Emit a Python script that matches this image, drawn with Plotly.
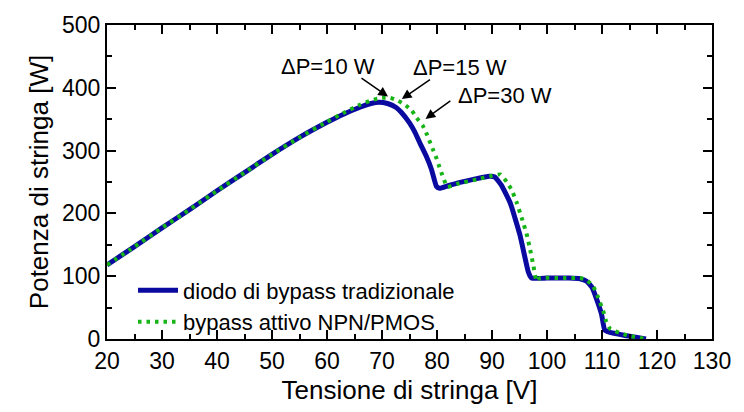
import plotly.graph_objects as go

# String P-V curves: traditional bypass diode vs. active NPN/PMOS bypass
v_diode = [20, 25, 30, 35, 40, 45, 50, 55, 60, 63, 66, 68, 69.5, 71, 72.5, 73.5,
           75, 76, 77, 78, 79, 79.9, 80.5, 82, 84, 87, 89.5, 90.5, 91.7, 93.3,
           95.1, 96.6, 97.2, 100, 104, 106, 107.2, 108.2, 109, 109.9, 110.5,
           111.3, 114, 118]
p_diode = [118, 147, 177, 206, 236, 265, 294, 321, 345, 358, 369, 375, 377, 375,
           369, 361, 344, 329, 310, 292, 270, 243, 240, 244, 249, 255, 259, 258,
           245, 217, 165, 107, 97, 97, 97, 96, 92, 82, 64, 40, 14, 11, 6, 0]

v_active = [20, 25, 30, 35, 40, 45, 50, 55, 60, 63, 66, 68, 70, 71.5, 72.5, 74,
            75.4, 76.3, 77.4, 78.1, 78.7, 79.3, 79.9, 80.4, 80.8, 81.3, 81.9,
            83.6, 87.2, 90, 91.5, 92.7, 93.6, 94.5, 95.4, 96.3, 96.9, 97.5, 98.1,
            98.7, 103, 106, 107.2, 108.4, 109.3, 110.2, 110.8, 111.5, 114.5, 118]
p_active = [118, 147, 177, 206, 236, 265, 294, 321, 346, 360, 373, 380, 384, 384,
            381, 374, 364, 352, 340, 327, 314, 301, 288, 275, 265, 253, 242, 247,
            254, 260, 262, 250, 237, 217, 193, 167, 144, 118, 92, 97, 97, 97, 94,
            84, 66, 45, 27, 16, 6, 0]

x_ticks = list(range(20, 131, 10))
y_ticks = list(range(0, 501, 100))

# (label, label position, arrow tail, arrow head) in data units
dp_labels = ["\u0394P=10 W", "\u0394P=15 W", "\u0394P=30 W"]
label_xy = [(60.2, 434), (84.2, 432), (92.4, 388)]
arrow_tail = [(66.0, 417), (79.0, 414.5), (82.7, 381)]
arrow_head = [(71.1, 386), (73.6, 382), (77.9, 350.5)]

FONT = "Liberation Sans, Arial, sans-serif"

fig = go.Figure()
fig.add_trace(go.Scatter(
    x=v_diode, y=p_diode, mode="lines",
    name="diodo di bypass tradizionale",
    line=dict(color="#0a0aa0", width=5, shape="spline", smoothing=0.4),
))
fig.add_trace(go.Scatter(
    x=v_active, y=p_active, mode="lines",
    name="bypass attivo NPN/PMOS",
    line=dict(color="#17b417", width=4, dash="3.5px,5px", shape="spline", smoothing=0.4),
))

annotations = []
for txt, (tx, ty) in zip(dp_labels, label_xy):
    annotations.append(dict(x=tx, y=ty, xref="x", yref="y", text=txt,
                            showarrow=False, font=dict(size=22, color="black", family=FONT)))
for (ax, ay), (hx, hy) in zip(arrow_tail, arrow_head):
    annotations.append(dict(x=hx, y=hy, ax=ax, ay=ay, xref="x", yref="y",
                            axref="x", ayref="y", text="", showarrow=True,
                            arrowhead=2, arrowsize=1.3, arrowwidth=1.5,
                            arrowcolor="black", standoff=0, startstandoff=0))

axis_common = dict(
    showline=True, linecolor="black", linewidth=2, mirror="allticks",
    ticks="inside", ticklen=9, tickwidth=1.5, tickcolor="black",
    showgrid=False, zeroline=False,
    tickfont=dict(size=23, color="black", family=FONT),
)

fig.update_layout(
    width=744, height=412,
    margin=dict(l=107, r=32, t=22, b=70),
    paper_bgcolor="white", plot_bgcolor="white",
    font=dict(family=FONT, color="black"),
    showlegend=True,
    legend=dict(x=0.043, y=-0.014, xanchor="left", yanchor="bottom",
                bgcolor="rgba(0,0,0,0)", font=dict(size=22, color="black", family=FONT),
                tracegroupgap=0, itemwidth=40),
    annotations=annotations,
)
fig.update_xaxes(
    range=[20, 130], tickvals=x_ticks, ticktext=[str(t) for t in x_ticks],
    minor=dict(ticks="inside", ticklen=5, tickwidth=1.5, tickcolor="black", dtick=5),
    title=dict(text="Tensione di stringa [V]", font=dict(size=26, color="black", family=FONT), standoff=8),
    **axis_common,
)
fig.update_yaxes(
    range=[0, 500], tickvals=y_ticks, ticktext=[str(t) for t in y_ticks],
    minor=dict(ticks="inside", ticklen=5, tickwidth=1.5, tickcolor="black", dtick=50),
    title=dict(text="Potenza di stringa [W]", font=dict(size=26, color="black", family=FONT), standoff=6),
    **axis_common,
)

fig.write_html("out.html")
